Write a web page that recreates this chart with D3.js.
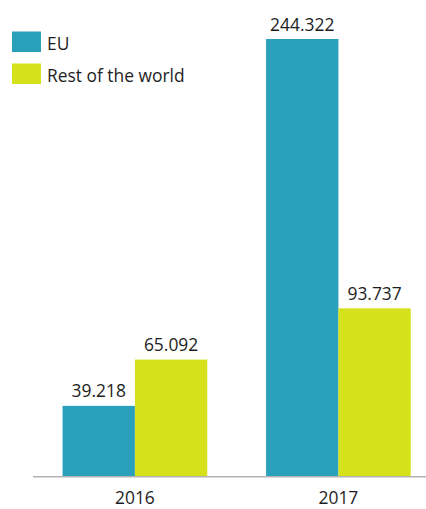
<html lang='en'>
  <head>
    <meta charset='UTF-8' />
    <script src='https://d3js.org/d3.v7.min.js'></script>
    <style>
      body { margin: 0; background: #fff; }
      text { font-family: 'Open Sans', sans-serif; font-size: 17.4px; fill: #1e1e1e; }
    </style>
    <title>EU vs Rest of the world</title>
  </head>
  <body>
  <div id='chart'></div>
  <script>

  //data
  const years = ["2016", "2017"];
  const series = ["EU", "Rest of the world"];
  const euValues = [39.218, 244.322];
  const restValues = [65.092, 93.737];

  const data = years.map((y, i) => ({
    year: y,
    values: [
      { key: series[0], value: euValues[i] },
      { key: series[1], value: restValues[i] },
    ],
  }));

  const width = 426;
  const height = 509;
  const baseY = 476;

  const svg = d3.select("#chart")
    .append("svg")
    .attr("width", width)
    .attr("height", height);

  //scales
  const color = d3.scaleOrdinal()
    .domain(series)
    .range(["#2aa0bc", "#d5e11b"]);

  const xScale = d3.scaleBand()
    .domain(years)
    .range([33, 426])
    .paddingInner(0.289)
    .paddingOuter(0.11)
    .align(0.66);

  const xInner = d3.scaleBand()
    .domain(series)
    .range([0, xScale.bandwidth()]);

  const yScale = d3.scaleLinear()
    .domain([0, d3.max(euValues.concat(restValues))])
    .range([baseY, 39]);

  const fmt = d3.format(".3f");

  //bars
  const group = svg.selectAll("g.year")
    .data(data)
    .join("g")
    .attr("class", "year")
    .attr("transform", (d) => `translate(${xScale(d.year)},0)`);

  group.selectAll("rect")
    .data((d) => d.values)
    .join("rect")
    .attr("x", (d) => xInner(d.key))
    .attr("y", (d) => yScale(d.value))
    .attr("width", xInner.bandwidth())
    .attr("height", (d) => baseY - yScale(d.value))
    .attr("fill", (d) => color(d.key));

  group.selectAll("text.val")
    .data((d) => d.values)
    .join("text")
    .attr("class", "val")
    .attr("x", (d) => xInner(d.key) + xInner.bandwidth() / 2)
    .attr("y", (d) => yScale(d.value) - 8.5)
    .attr("text-anchor", "middle")
    .text((d) => fmt(d.value));

  //x axis
  const gXAxis = svg.append("g")
    .attr("transform", `translate(0,${baseY})`)
    .call(d3.axisBottom(xScale).tickSize(0));
  gXAxis.select(".domain").remove();
  gXAxis.selectAll(".tick text")
    .attr("y", 28)
    .attr("dy", 0)
    .style("font-family", "'Open Sans', sans-serif")
    .style("font-size", "17.4px")
    .attr("fill", "#1e1e1e");

  svg.append("line")
    .attr("x1", 33)
    .attr("x2", width)
    .attr("y1", baseY + 0.75)
    .attr("y2", baseY + 0.75)
    .attr("stroke", "#b3b3b3")
    .attr("stroke-width", 1.5);

  //legend
  const legend = svg.selectAll("g.legend")
    .data(series)
    .join("g")
    .attr("class", "legend")
    .attr("transform", (d, i) => `translate(12,${31.5 + i * 32})`);

  legend.append("rect")
    .attr("width", 29)
    .attr("height", 20.5)
    .attr("fill", (d) => color(d));

  legend.append("text")
    .attr("x", 35)
    .attr("y", 18)
    .text((d) => d);

  </script>
  </body>
</html>
